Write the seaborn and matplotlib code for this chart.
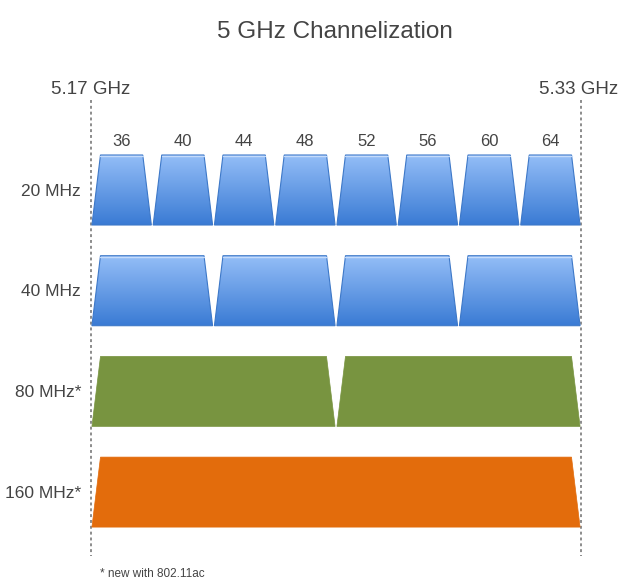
import numpy as np
import matplotlib
matplotlib.use("Agg")
import matplotlib.pyplot as plt
from matplotlib.patches import Polygon
from matplotlib.colors import LinearSegmentedColormap
import seaborn as sns

# band data (MHz)
band_start = 5170
band_end = 5330
row_labels = ["20 MHz", "40 MHz", "80 MHz*", "160 MHz*"]
row_widths = [20, 40, 80, 160]
row_colors = ["blue", "blue", "#789440", "#e36c0c"]
channel_numbers = [36, 40, 44, 48, 52, 56, 60, 64]

sns.set_theme(style="white")
plt.rcParams["font.family"] = ["Liberation Sans", "DejaVu Sans"]
txt = "#444444"

fig = plt.figure(figsize=(6.2, 5.86), dpi=100)
ax = fig.add_axes([0, 0, 1, 1])
px = 490 / (band_end - band_start)
x0 = band_start - 91 / px
ax.set_xlim(x0, band_end + 39 / px)
ax.set_ylim(586, 0)
ax.axis("off")

blue_cmap = LinearSegmentedColormap.from_list("chan", ["#93bdf7", "#3a7bd4"])
grad = np.linspace(0, 1, 100).reshape(-1, 1)

inset = 2.8  # MHz slope at the top of each channel
row_top0, row_h, row_gap = 155, 70, 100.7

for i, (label, w, col) in enumerate(zip(row_labels, row_widths, row_colors)):
    top = row_top0 + i * row_gap
    bot = top + row_h
    starts = np.arange(band_start, band_end, w)
    for s in starts:
        l, r = s + 0.3, s + w - 0.3
        verts = [(l, bot), (l + inset, top), (r - inset, top), (r, bot)]
        if col == "blue":
            poly = Polygon(verts, closed=True, facecolor="none",
                           edgecolor="#3d78c8", lw=0.8, zorder=3)
            ax.add_patch(poly)
            im = ax.imshow(grad, cmap=blue_cmap, aspect="auto",
                           extent=(l, r, bot, top), zorder=2)
            im.set_clip_path(poly)
            ax.plot([l + inset, r - inset], [top + 0.8, top + 0.8],
                    color="#c4dbfb", lw=1, zorder=4)
        else:
            ax.add_patch(Polygon(verts, closed=True, facecolor=col,
                                 edgecolor=col, lw=0.5, zorder=2))
    ax.text(x0 + 81 / px, (top + bot) / 2 + 1, label, ha="right",
            va="center", fontsize=12.5, color=txt)

# channel numbers above the 20 MHz row
for k, ch in enumerate(channel_numbers):
    ax.text(band_start + 20 * k + 10, 141, str(ch), ha="center",
            va="center", fontsize=12, color=txt)

# band edge markers
for f, lab in [(band_start, "5.17 GHz"), (band_end, "5.33 GHz")]:
    ax.plot([f, f], [100, 556], color="#8c8c8c", lw=1.4,
            linestyle=(0, (1.5, 1.5)), zorder=1)
ax.text(band_start, 90, "5.17 GHz", ha="center", va="center",
        fontsize=13.5, color=txt)
ax.text(x0 + 618 / px, 89, "5.33 GHz", ha="right", va="center",
        fontsize=13.5, color=txt)

ax.text(x0 + 335 / px, 32, "5 GHz Channelization", ha="center",
        va="center", fontsize=17.5, color=txt)
ax.text(band_start + 3, 574, "* new with 802.11ac", ha="left", va="center",
        fontsize=8.5, color=txt)

fig.savefig("out.png", dpi=100)
